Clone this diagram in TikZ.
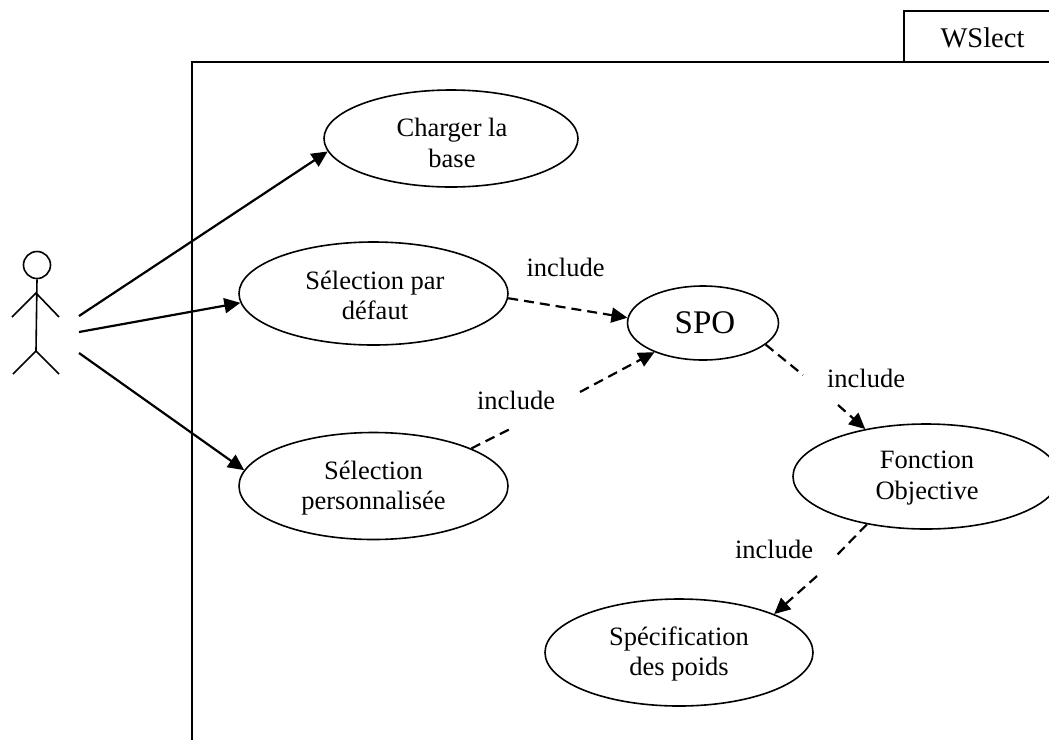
\documentclass[tikz,border=0pt]{standalone}
\usepackage{fontspec}
\setmainfont{Liberation Serif}
\usetikzlibrary{arrows.meta,shapes.geometric}
\tikzset{
 uc/.style={draw,ellipse,line width=1.6pt,inner sep=0pt},
 txt/.style={align=center,inner sep=0pt,font=\fontsize{26.5}{30.5}\selectfont},
 lbl/.style={font=\fontsize{26.5}{30}\selectfont,inner sep=0pt},
 act/.style={line width=2.2pt,-{Triangle[length=16pt,width=15pt]}},
 inc/.style={line width=2.2pt,dash pattern=on 10pt off 6pt,-{Triangle[length=16pt,width=15pt]}},
 incn/.style={line width=2.2pt,dash pattern=on 10pt off 6pt},
 fr/.style={line width=1.6pt}
}
\begin{document}
\begin{tikzpicture}[x=1pt,y=-1pt]
\useasboundingbox (0,0) rectangle (1049,740);
\coordinate (t1) at (904,62);
\coordinate (t2) at (904,11);
\coordinate (t3) at (1049,11);
\coordinate (f1) at (192,740);
\coordinate (f2) at (192,62);
\coordinate (f3) at (1049,62);
\draw[fr] (t1) -- (t2) -- (t3);
\node[inner sep=0pt,font=\fontsize{28.5}{30}\selectfont] (ws) at (982.5,38) {WSlect};
\draw[fr] (f1) -- (f2) -- (f3);
\node[uc,minimum width=254pt,minimum height=97pt] (a) at (451,138.5) {};
\node[txt,yshift=-4.5pt,xshift=1pt] (at) at (a) {Charger la\\base};
\node[uc,minimum width=269pt,minimum height=103pt] (b) at (373.5,293.5) {};
\node[txt,yshift=-2pt,xshift=1.5pt] (bt) at (b) {Sélection par\\défaut};
\node[uc,minimum width=269pt,minimum height=107pt] (c) at (373.5,486) {};
\node[txt,yshift=-2pt] (ct) at (c) {Sélection\\personnalisée};
\node[uc,minimum width=151pt,minimum height=74pt] (s) at (703,323) {};
\node[inner sep=0pt,font=\fontsize{33}{36}\selectfont,xshift=2pt] (st) at (s) {SPO};
\node[uc,minimum width=266pt,minimum height=105pt] (f) at (926,476.5) {};
\node[txt,yshift=-1.5pt,xshift=1pt] (ft) at (f) {Fonction\\Objective};
\node[uc,minimum width=268pt,minimum height=107pt] (p) at (679,652.5) {};
\node[txt,yshift=-1.5pt] (pt) at (p) {Spécification\\des poids};
\node[lbl] (i1) at (565.5,267) {include};
\node[lbl] (i2) at (516,400) {include};
\node[lbl] (i3) at (866,378) {include};
\node[lbl] (i4) at (774,549) {include};
% actor
\node[draw,circle,line width=1.6pt,minimum size=27pt,inner sep=0pt] (h) at (37,265) {};
\coordinate (hip) at (36,351);
\coordinate (lh) at (12,317);
\coordinate (rh) at (59,317);
\coordinate (sh) at (36,293);
\coordinate (lf) at (13,374);
\coordinate (rf) at (59,374);
\draw[line width=1.6pt] (h.south) -- (hip) (lh) -- (sh) -- (rh) (lf) -- (hip) -- (rf);
\coordinate (a1) at (79,316);
\coordinate (a2) at (79,332);
\coordinate (a3) at (79,353);
\draw[act] (a1) -- (a.186);
\draw[act] (a2) -- (b.184);
\draw[act] (a3) -- (c.173);
\draw[inc] (b.358) -- (s.176);
\coordinate (g1) at (512,428);
\coordinate (g2) at (580,392);
\draw[incn] (c.21) -- (g1);
\draw[inc] (g2) -- (s.211);
\coordinate (g3) at (803,375);
\coordinate (g4) at (838,405);
\draw[incn] (s.341) -- (g3);
\draw[inc] (g4) -- (f.142);
\coordinate (g5) at (837,555);
\coordinate (g6) at (817,576);
\draw[incn] (f.219) -- (g5);
\draw[inc] (g6) -- (p.22);
\end{tikzpicture}
\end{document}
